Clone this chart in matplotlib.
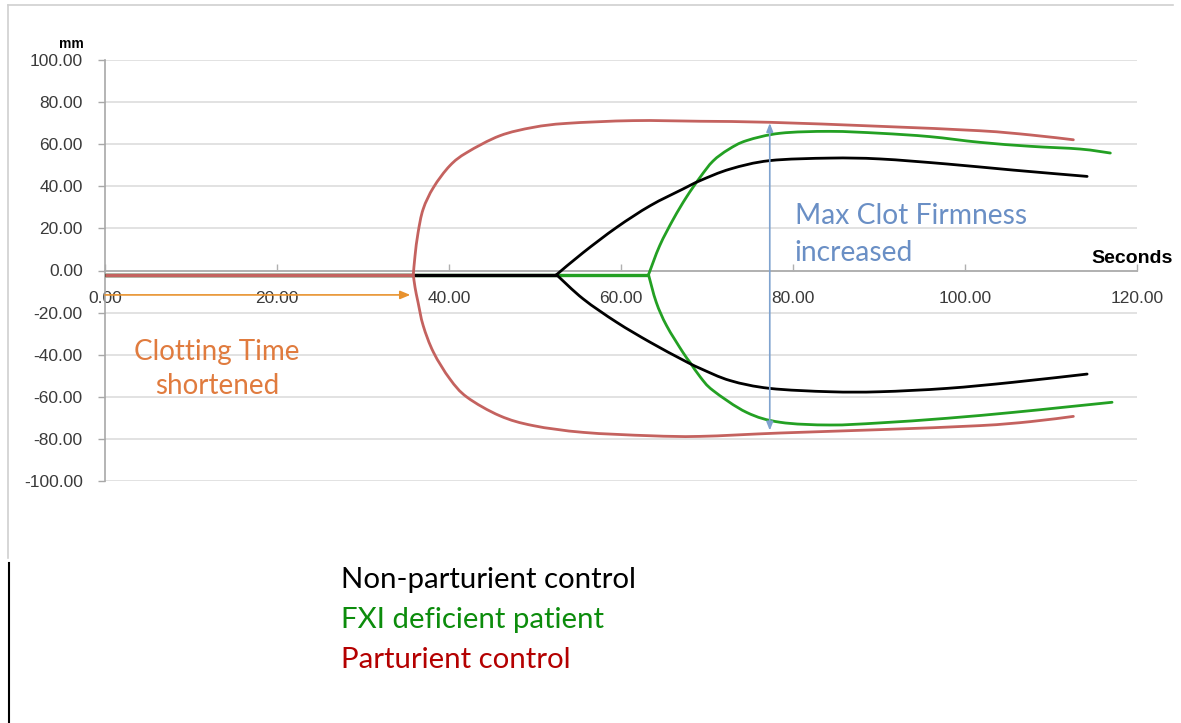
import matplotlib
matplotlib.use("Agg")
import matplotlib.pyplot as plt
import numpy as np
from matplotlib.lines import Line2D
from matplotlib.path import Path
from matplotlib.patches import PathPatch

# ---------------- data ----------------
baseline_mm = -2.0

# Parturient control (red)
red_onset = 35.85
red_up_t = [35.85, 36.05, 36.4, 37.0, 38.2, 40.1, 42.1, 45.9, 49.8, 53.7, 61.4, 69.2, 77.3, 90.1, 101.7, 107.6, 112.6]
red_up_mm = [-2.0, 7.0, 17.9, 29.2, 39.5, 49.8, 56.1, 64.0, 68.0, 69.9, 71.2, 70.9, 70.4, 68.5, 66.4, 64.4, 62.1]
red_lo_t = [35.85, 36.05, 36.4, 37.0, 38.2, 40.1, 42.1, 45.9, 49.8, 55.6, 63.4, 69.2, 78.5, 90.1, 101.7, 107.6, 112.6]
red_lo_mm = [-2.0, -8.0, -15.1, -26.2, -38.9, -51.5, -60.2, -69.0, -73.7, -76.9, -78.5, -78.8, -77.2, -75.6, -73.7, -71.8, -69.3]

# Non-parturient control (black)
black_onset = 52.5
black_t = [52.5, 55.6, 59.5, 63.4, 67.2, 69.2, 72.7, 77.3, 84.3, 90.1, 97.9, 105.6, 114.2]
black_up_mm = [-2.0, 8.5, 20.5, 30.8, 38.7, 42.7, 48.2, 52.2, 53.4, 53.0, 50.6, 47.7, 44.7]
black_lo_mm = [-2.0, -13.5, -24.6, -34.1, -42.5, -46.5, -52.3, -56.0, -57.6, -57.6, -56.0, -53.1, -49.2]

# FXI deficient patient (green)
green_onset = 63.2
green_up_t = [63.2, 64.5, 66.1, 67.6, 69.2, 70.7, 72.5, 74.6, 78.5, 84.3, 90.1, 95.9, 101.7, 107.6, 113.4, 116.9]
green_up_mm = [-2.0, 11.8, 24.5, 34.8, 44.3, 52.0, 57.5, 61.7, 65.2, 66.1, 65.2, 63.6, 60.9, 59.0, 57.7, 55.8]
green_lo_t = [63.2, 64.1, 65.3, 67.2, 68.0, 69.2, 70.7, 74.6, 78.5, 84.3, 90.1, 97.9, 105.6, 111.4, 117.1]
green_lo_mm = [-2.0, -15.1, -26.2, -38.9, -43.5, -50.5, -57.0, -67.4, -72.1, -73.4, -72.4, -70.2, -67.4, -65.0, -62.6]

x_ticks = [0, 20, 40, 60, 80, 100, 120]
y_ticks = [-100, -80, -60, -40, -20, 0, 20, 40, 60, 80, 100]

legend_labels = ["Non-parturient control", "FXI deficient patient", "Parturient control"]

# annotations
mcf_t = 77.3
mcf_top, mcf_bottom = 70.0, -76.0
ct_y = -11.6
ct_end = 35.5

# ---------------- styles ----------------
C_RED = "#C4625F"
C_BLACK = "#000000"
C_GREEN = "#23A023"
LW = 2.0

fig = plt.figure(figsize=(11.81, 7.23), dpi=100)
ax = fig.add_axes([105 / 1181, 1 - 481 / 723, (1137 - 105) / 1181, 421 / 723])
ax.set_xlim(0, 120)
ax.set_ylim(-100, 100)


def smooth_line(xs, ys, color, z):
    """Draw a smoothed (Catmull-Rom / Bezier) line through the data points,
    like a spreadsheet 'smoothed line' series."""
    p = np.column_stack([xs, ys]).astype(float)
    n = len(p)
    verts = [p[0]]
    codes = [Path.MOVETO]
    for i in range(n - 1):
        p0 = p[i - 1] if i > 0 else p[i]
        p1 = p[i]
        p2 = p[i + 1]
        p3 = p[i + 2] if i + 2 < n else p[i + 1]
        c1 = p1 + (p2 - p0) / 6.0
        c2 = p2 - (p3 - p1) / 6.0
        verts += [c1, c2, p2]
        codes += [Path.CURVE4] * 3
    ax.add_patch(PathPatch(Path(verts, codes), facecolor="none", edgecolor=color,
                           lw=LW, zorder=z, capstyle="round", joinstyle="round"))


def draw(onset, ut, uv, lt, lv, color, z):
    ax.plot([0, onset], [baseline_mm, baseline_mm], color=color, lw=LW + 0.4, zorder=z,
            solid_capstyle="butt")
    smooth_line(ut, uv, color, z)
    smooth_line(lt, lv, color, z)


draw(green_onset, green_up_t, green_up_mm, green_lo_t, green_lo_mm, C_GREEN, 3)
draw(black_onset, black_t, black_up_mm, black_t, black_lo_mm, C_BLACK, 4)
draw(red_onset, red_up_t, red_up_mm, red_lo_t, red_lo_mm, C_RED, 5)

# grid
ax.set_yticks(y_ticks)
ax.set_yticklabels([f"{v:.2f}" for v in y_ticks], fontfamily="Liberation Sans",
                   fontsize=12.5, color="#3A3A3A")
for v in y_ticks:
    if v != 0:
        ax.axhline(v, color="#E2E2E2", lw=1.4, zorder=0)
ax.tick_params(axis="y", direction="out", length=5, width=1, color="#A8A8A8", pad=11)

ax.spines["top"].set_visible(False)
ax.spines["right"].set_visible(False)
ax.spines["left"].set_color("#A8A8A8")
ax.spines["left"].set_linewidth(1.2)
ax.spines["bottom"].set_position(("data", 0))
ax.spines["bottom"].set_color("#B0B0B0")
ax.spines["bottom"].set_linewidth(1.4)
ax.spines["bottom"].set_zorder(1)

ax.set_xticks(x_ticks)
ax.set_xticklabels([f"{v:.2f}" for v in x_ticks], fontfamily="Liberation Sans",
                   fontsize=12.5, color="#3A3A3A")
ax.tick_params(axis="x", direction="in", length=5, width=1, color="#B0B0B0", pad=15)

# axis titles
fig.text(71 / 1181, 1 - 44 / 723, "mm", fontsize=10, fontweight="bold",
         fontfamily="Liberation Sans", ha="center", va="center")
fig.text(1173 / 1181, 1 - 258 / 723, "Seconds", fontsize=14, fontweight="bold",
         fontfamily="Liberation Sans", ha="right", va="center")

# Max clot firmness arrow
ax.annotate("", xy=(mcf_t, mcf_top), xytext=(mcf_t, mcf_bottom),
            arrowprops=dict(arrowstyle="<|-|>,head_length=0.5,head_width=0.2",
                            color="#7FA3CF", lw=1.2, shrinkA=0, shrinkB=0), zorder=6)
ax.text(80.2, 26.0, "Max Clot Firmness", fontfamily="Lato", fontsize=20.3,
        color="#6A8FC5", ha="left", va="center")
ax.text(80.2, 8.5, "increased", fontfamily="Lato", fontsize=20.3,
        color="#6A8FC5", ha="left", va="center")

# Clotting time arrow
ax.annotate("", xy=(ct_end, ct_y), xytext=(0, ct_y),
            arrowprops=dict(arrowstyle="-|>,head_length=0.6,head_width=0.25",
                            color="#E8922E", lw=1.2, shrinkA=0, shrinkB=0), zorder=6)
ax.text(13.0, -38.5, "Clotting Time", fontfamily="Lato", fontsize=20,
        color="#E07B3E", ha="center", va="center")
ax.text(13.0, -55.0, "shortened", fontfamily="Lato", fontsize=20,
        color="#E07B3E", ha="center", va="center")

# legend as coloured text
leg_colors = ["#000000", "#0C8C0C", "#B40000"]
for i, (lab, col) in enumerate(zip(legend_labels, leg_colors)):
    fig.text(341 / 1181, 1 - (580 + 40 * i) / 723, lab, fontfamily="Lato", fontsize=21.2,
             color=col, ha="left", va="center")

# frame decorations
fig.add_artist(Line2D([8 / 1181, 1173 / 1181], [1 - 5 / 723, 1 - 5 / 723],
                      color="#D0D0D0", lw=1.2))
fig.add_artist(Line2D([8 / 1181, 8 / 1181], [1 - 5 / 723, 1 - 558 / 723],
                      color="#D0D0D0", lw=1.2))
fig.add_artist(Line2D([9.5 / 1181, 9.5 / 1181], [1 - 563 / 723, 0],
                      color="#000000", lw=1.5))

fig.savefig("out.png", dpi=100)
